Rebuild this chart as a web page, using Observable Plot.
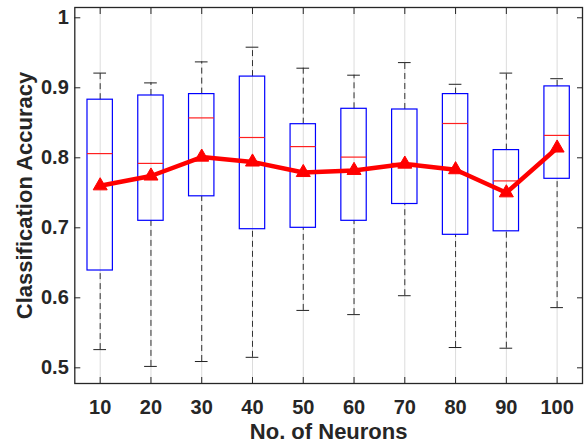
<!DOCTYPE html>
<html><head><meta charset="utf-8">
<script src="https://cdn.jsdelivr.net/npm/d3@7"></script>
<script src="https://cdn.jsdelivr.net/npm/@observablehq/plot@0.6"></script>
<style>body{margin:0;background:#fff;} svg{display:block}</style>
</head><body><div id="chart"></div>
<script>
const neurons = [10, 20, 30, 40, 50, 60, 70, 80, 90, 100];
const upperWhisker = [0.921, 0.907, 0.937, 0.958, 0.928, 0.918, 0.936, 0.905, 0.921, 0.913];
const q3 = [0.883, 0.889, 0.891, 0.916, 0.848, 0.870, 0.869, 0.891, 0.811, 0.902];
const median = [0.806, 0.792, 0.857, 0.829, 0.816, 0.801, 0.792, 0.849, 0.767, 0.832];
const q1 = [0.639, 0.710, 0.745, 0.698, 0.700, 0.710, 0.734, 0.690, 0.695, 0.770];
const lowerWhisker = [0.526, 0.502, 0.509, 0.515, 0.582, 0.576, 0.603, 0.529, 0.528, 0.586];
const meanAccuracy = [0.760, 0.774, 0.801, 0.794, 0.779, 0.782, 0.791, 0.783, 0.750, 0.814];
const yTicks = [0.5, 0.6, 0.7, 0.8, 0.9, 1];
const xLabel = "No. of Neurons";
const yLabel = "Classification Accuracy";

const rows = neurons.map((n, i) => ({
  n, hi: upperWhisker[i], q3: q3[i], med: median[i], q1: q1[i], lo: lowerWhisker[i], mean: meanAccuracy[i]
}));
const boxHalf = 2.5, capHalf = 1.25;
const axisColor = "#262626";

const chart = Plot.plot({
  width: 586, height: 443,
  marginLeft: 74.3, marginRight: 4, marginTop: 7, marginBottom: 60,
  style: {fontFamily: "'Liberation Sans', Arial, sans-serif", background: "#fff"},
  x: {type: "linear", domain: [5, 105]},
  y: {domain: [0.4776, 1.0147]},
  marks: [
    Plot.ruleX(neurons, {x: d => d, stroke: "#dcdcdc", strokeWidth: 1}),
    Plot.ruleX(rows, {x: "n", y1: "q3", y2: "hi", stroke: "#333", strokeDasharray: "6,4"}),
    Plot.ruleX(rows, {x: "n", y1: "lo", y2: "q1", stroke: "#333", strokeDasharray: "6,4"}),
    Plot.ruleY(rows, {y: "hi", x1: d => d.n - capHalf, x2: d => d.n + capHalf, stroke: "#222"}),
    Plot.ruleY(rows, {y: "lo", x1: d => d.n - capHalf, x2: d => d.n + capHalf, stroke: "#222"}),
    Plot.rect(rows, {x1: d => d.n - boxHalf, x2: d => d.n + boxHalf, y1: "q1", y2: "q3", fill: "none", stroke: "blue", strokeWidth: 1.2}),
    Plot.ruleY(rows, {y: "med", x1: d => d.n - boxHalf, x2: d => d.n + boxHalf, stroke: "#ff2020", strokeWidth: 1.2}),
    Plot.line(rows, {x: "n", y: "mean", stroke: "red", strokeWidth: 4.5}),
    Plot.dot(rows, {x: "n", y: "mean", symbol: "triangle", r: 5.2, fill: "red", stroke: "red", strokeWidth: 1}),
    Plot.frame({stroke: axisColor, strokeWidth: 1.3}),
    Plot.axisX(neurons, {anchor: "bottom", tickSize: -6, tickPadding: 22, fontSize: 20, fontWeight: "bold", color: axisColor, label: null}),
    Plot.axisX(neurons, {anchor: "top", tickSize: -6, tickFormat: () => "", color: axisColor, label: null}),
    Plot.axisY(yTicks, {anchor: "left", tickSize: -6, tickPadding: 12, fontSize: 20, fontWeight: "bold", color: axisColor, tickFormat: d => String(d), label: null}),
    Plot.axisY(yTicks, {anchor: "right", tickSize: -6, tickFormat: () => "", color: axisColor, label: null}),
    Plot.text([xLabel], {text: d => d, frameAnchor: "bottom", textAnchor: "middle", lineAnchor: "middle", dy: 48.5, fontSize: 22, fontWeight: "bold", fill: axisColor}),
    Plot.text([yLabel], {text: d => d, frameAnchor: "left", textAnchor: "middle", lineAnchor: "middle", rotate: -90, dx: -49.6, fontSize: 22, fontWeight: "bold", fill: axisColor})
  ]
});
document.getElementById("chart").appendChild(chart);
</script>
</body></html>
